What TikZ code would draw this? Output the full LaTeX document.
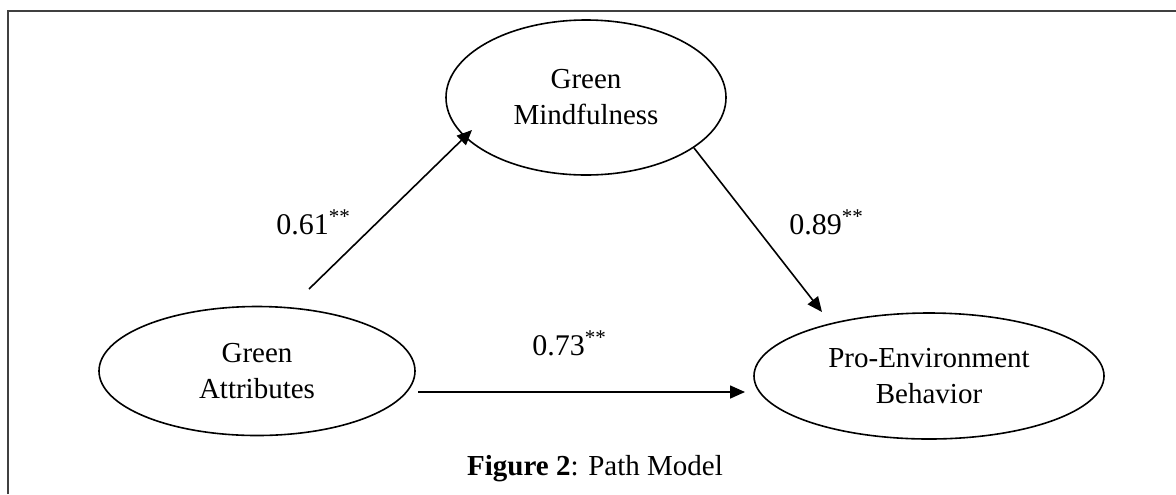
\documentclass[tikz,border=0pt]{standalone}
\usepackage{fontspec}
\setmainfont{Liberation Serif}
\usetikzlibrary{arrows.meta,shapes.geometric}

\begin{document}
\begin{tikzpicture}[x=0.5pt,y=-0.5pt,
    latent/.style={draw,ellipse,line width=0.8pt,align=center,inner sep=0pt,
      font=\fontsize{14.5}{18}\selectfont},
    effect/.style={-{Triangle[length=7.5pt,width=6.5pt]},line width=0.8pt},
    coef/.style={anchor=base west,inner sep=0pt,font=\fontsize{15}{18}\selectfont}]
      \useasboundingbox (0,0) rectangle (1176,494);
      % frame (cut off at right and bottom)
      \draw[line width=1.3pt,black!75] (8,494) -- (8,11) -- (1176,11);

      % constructs
      \node[latent,minimum width=158pt,minimum height=64.5pt] (ga) at (257,371) {Green\\Attributes};
      \node[latent,minimum width=140pt,minimum height=77.5pt] (gm) at (586,97.5) {Green\\Mindfulness};
      \node[latent,minimum width=175pt,minimum height=63pt] (pe) at (929,376) {Pro-Environment\\Behavior};

      % free arrow ends
      \coordinate (ga1) at (309,289);
      \coordinate (gm1) at (472,130);
      \coordinate (pe1) at (822,312);
      \coordinate (ga2) at (418,392);
      \coordinate (pe2) at (745,392);

      \draw[effect] (ga1) -- (gm1);
      \draw[effect] (gm.-25) -- (pe1);
      \draw[effect] (ga2) -- (pe2);

      \node[coef] (c1) at (276,234) {0.61\textsuperscript{**}};
      \node[coef] (c2) at (789,234) {0.89\textsuperscript{**}};
      \node[coef] (c3) at (532,355) {0.73\textsuperscript{**}};

      \node[anchor=base,inner sep=0pt,font=\fontsize{14.5}{18}\selectfont] (cap) at (595,475) {\textbf{Figure 2}: Path Model};
    \end{tikzpicture}
\end{document}
